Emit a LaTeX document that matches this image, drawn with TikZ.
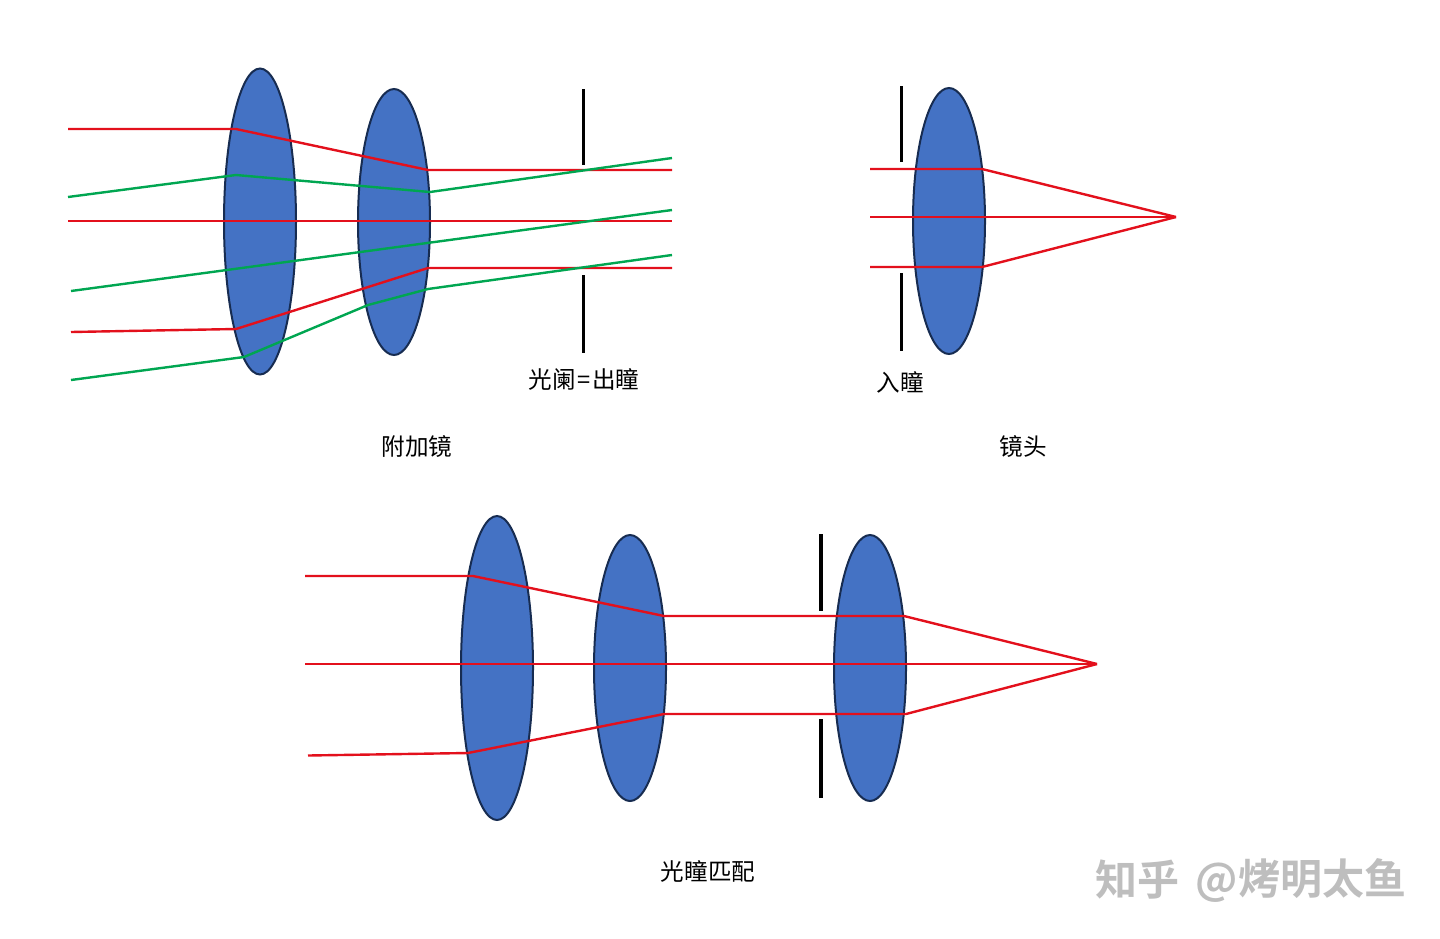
\documentclass[tikz,border=0pt]{standalone}
\usepackage{fontspec}
\newfontfamily\cjk{Noto Sans CJK SC}
\newfontfamily\cjkbold{Noto Sans CJK SC Bold}
\definecolor{lensblue}{HTML}{4472C4}
\definecolor{lensedge}{HTML}{172C51}
\definecolor{rayred}{HTML}{E3101C}
\definecolor{raygreen}{HTML}{00A651}
\definecolor{markgray}{HTML}{BEBEBE}
\tikzset{
  lens/.style={draw=lensedge,fill=lensblue,line width=2pt},
  redray/.style={draw=rayred,line width=2.4pt,line join=round},
  greenray/.style={draw=raygreen,line width=2.4pt,line join=round},
  stopbar/.style={draw=black,line width=3pt},
  stopthick/.style={draw=black,line width=4.4pt},
  caption/.style={font=\fontsize{23.6}{25}\selectfont\cjk,inner sep=0pt},
  watermark/.style={font=\fontsize{42}{44}\selectfont\cjkbold,text=markgray,inner sep=0pt}
}
\begin{document}
\begin{tikzpicture}[x=1pt,y=-1pt]
\useasboundingbox (0,0) rectangle (1440,938);
%top left lenses
\draw[lens] (260,221.5) ellipse [x radius=36,y radius=153];
\draw[lens] (394,222) ellipse [x radius=36,y radius=133];
%top left red
\draw[redray] (68,129) -- (236,129) -- (428,170) -- (672,170);
\draw[redray] (68,221) -- (672,221);
\draw[redray] (71,332) -- (236,329) -- (428,268) -- (672,268);
%top left green
\draw[greenray] (68,197) -- (236,175) -- (430,192) -- (672,158);
\draw[greenray] (71,291) -- (672,210);
\draw[greenray] (71,380) -- (244,357) -- (368,305) -- (428,289) -- (672,255);
%top left stop
\draw[stopbar] (583,89) -- (583,165);
\draw[stopbar] (583,275) -- (583,353);
\node[caption] (stoplabel) at (584,379) {光阑\hspace{1.5pt}=\hspace{1.5pt}出瞳};
\node[caption] (addonlabel) at (417,446.5) {附加镜};
%top right lens
\draw[lens] (949,221) ellipse [x radius=36,y radius=133];
\draw[stopbar] (901,86) -- (901,162);
\draw[stopbar] (901,273) -- (901,351);
\draw[redray] (870,169) -- (982,169) -- (1176,217);
\draw[redray] (870,217) -- (1176,217);
\draw[redray] (870,267) -- (982,267) -- (1176,217);
\node[caption] (pupillabel) at (900,382.5) {入瞳};
\node[caption] (mainlabel) at (1023,446.5) {镜头};
%bottom lenses
\draw[lens] (497,668) ellipse [x radius=36,y radius=152];
\draw[lens] (630,668) ellipse [x radius=36,y radius=133];
\draw[lens] (870,668) ellipse [x radius=36,y radius=133];
\draw[stopthick] (821,534) -- (821,611);
\draw[stopthick] (821,719) -- (821,798);
%bottom red
\draw[redray] (305,576) -- (473,576) -- (664,616) -- (904,616) -- (1097,664);
\draw[redray] (305,664) -- (1097,664);
\draw[redray] (308,755.5) -- (468,753) -- (664,714) -- (906,714) -- (1097,664);
\node[caption] (matchlabel) at (708,871) {光瞳匹配};
%watermark
\node[watermark] (markleft) at (1137,880) {知乎};
\node[watermark] (markright) at (1301,880) {@烤明太鱼};
\end{tikzpicture}
\end{document}
